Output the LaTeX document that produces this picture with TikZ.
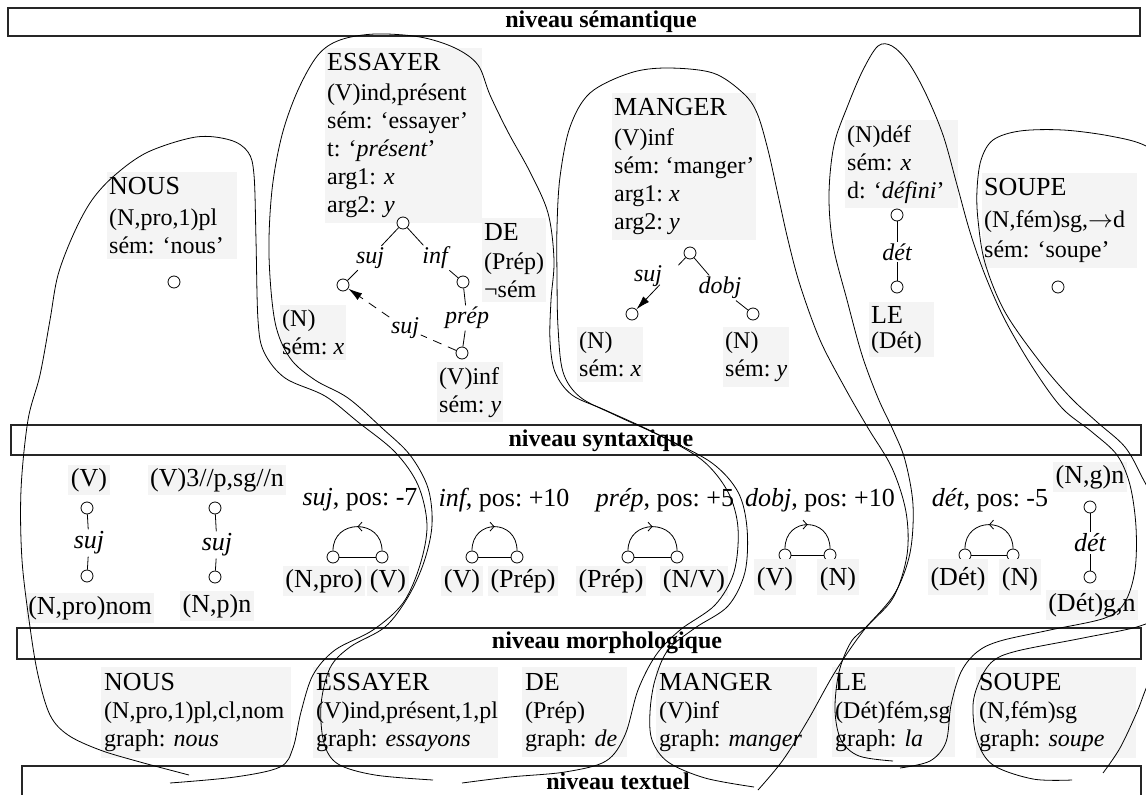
\documentclass[tikz,border=0pt]{standalone}
\usepackage{fontspec}
\setmainfont{Liberation Serif}
\usetikzlibrary{arrows.meta,decorations.markings,calc}
\definecolor{boxgray}{RGB}{244,244,244}
\newcommand{\wtitle}[1]{{\fontsize{26}{30}\selectfont #1}}
\frenchspacing
\begin{document}
\begin{tikzpicture}[x=1pt,y=-1pt,
  every node/.style={font=\fontsize{24}{28}\selectfont},
  gbox/.style={fill=boxgray, anchor=north west, align=left, inner xsep=2pt, inner ysep=5pt},
  sbox/.style={fill=boxgray, inner xsep=2.5pt, inner ysep=3pt, font=\fontsize{26}{30}\selectfont},
  tbox/.style={sbox, anchor=base, text height=23pt, text depth=7pt},
  circ/.style={circle, draw, fill=white, minimum size=12pt, inner sep=0pt, line width=0.8pt},
  lab/.style={font=\fontsize{24}{28}\selectfont\itshape, inner sep=1.5pt},
  slab/.style={font=\fontsize{26}{30}\selectfont\itshape, inner sep=2pt},
  rtext/.style={font=\fontsize{26}{30}\selectfont, inner sep=1pt},
  bar/.style={draw=black!85, line width=1.1pt},
  barlabel/.style={font=\fontsize{24}{28}\selectfont\bfseries, inner sep=0pt},
  blob/.style={line width=0.8pt},
  tline/.style={line width=0.8pt},
  rarc/.style={line width=0.8pt, postaction={decorate}, decoration={markings, mark=at position 0.5 with {\arrow{Straight Barb[length=4pt,width=9pt]}}}},
  larc/.style={line width=0.8pt, postaction={decorate}, decoration={markings, mark=at position 0.5 with {\arrowreversed{Straight Barb[length=4pt,width=9pt]}}}},
]
\useasboundingbox (0,0) rectangle (1146,795);
\fill[white] (0,0) rectangle (1146,795);

% level bars
\draw[bar] (8,8) rectangle (1140,36);
\node[barlabel] (tsem) at (601,22) {niveau sémantique};
\draw[bar] (11,425) rectangle (1141,455);
\node[barlabel] (tsyn) at (601,441) {niveau syntaxique};
\draw[bar] (17,628) rectangle (1141,659);
\node[barlabel] (tmor) at (607,643) {niveau morphologique};
\begin{scope}
\clip (0,0) rectangle (1146,795);
\draw[bar] (22,766) rectangle (1141,815);
\end{scope}
\node[barlabel] (ttxt) at (618,781) {niveau textuel};

% ---------- semantic level ----------
\node[gbox, text width=126pt] (snous) at (107,172) {\wtitle{NOUS}\\[3pt](N,pro,1)pl\\sém: ‘nous’};
\node[gbox, text width=153pt] (sess) at (325,48) {\wtitle{ESSAYER}\\[2pt](V)ind,présent\\sém: ‘essayer’\\t: ‘\textit{présent}’\\arg1: \textit{x}\\arg2: \textit{y}};
\node[gbox] (sde) at (482,218) {\wtitle{DE}\\[1pt](Prép)\\¬sém};
\node[gbox] (snx) at (280,305) {(N)\\sém: \textit{x}};
\node[gbox] (svy) at (437,362) {(V)inf\\sém: \textit{y}};
\node[gbox] (sman) at (612,93) {\wtitle{MANGER}\\[2pt](V)inf\\sém: ‘manger’\\arg1: \textit{x}\\arg2: \textit{y}};
\node[gbox] (smx) at (577,327) {(N)\\sém: \textit{x}};
\node[gbox] (smy) at (723,327) {(N)\\sém: \textit{y}};
\node[gbox, text width=109pt] (sdef) at (845,120) {(N)déf\\sém: \textit{x}\\d: ‘\textit{défini}’};
\node[gbox, text width=61pt, inner ysep=4pt] (sle) at (869,302) {\wtitle{LE}\\[-3pt](Dét)};
\node[gbox, text width=151pt] (ssoupe) at (982,173) {\wtitle{SOUPE}\\[4pt](N,fém)sg,$\rightarrow$d\\[2pt]sém: ‘soupe’};

\node[circ] (cnous) at (174,282) {};
\node[circ] (csoupe) at (1058,287) {};

% ESSAYER tree
\node[circ] (e0) at (403,223) {};
\node[circ] (e1) at (343,285) {};
\node[circ] (e2) at (463,282) {};
\node[circ] (e3) at (462,353) {};
\node[lab] (esuj) at (370,258) {suj};
\node[lab] (einf) at (435,258) {inf};
\node[lab] (eprep) at (467,318) {prép};
\node[lab] (esujb) at (405,328) {suj};
\draw[tline] (e0) -- (esuj);
\draw[tline] (esuj) -- (e1);
\draw[tline] (e0) -- (einf);
\draw[tline] (einf) -- (e2);
\draw[tline] (e2) -- (eprep);
\draw[tline] (eprep) -- (e3);
\draw[tline, dash pattern=on 9pt off 7pt] (e3) -- (esujb);
\draw[tline, dash pattern=on 9pt off 7pt, -{Latex[length=14pt,width=8pt]}] (esujb) -- (e1);

% MANGER tree
\node[circ] (m0) at (690,253) {};
\node[circ] (m1) at (632,314) {};
\node[circ] (m2) at (753,314) {};
\node[lab] (msuj) at (648,276) {suj};
\node[lab] (mdobj) at (720,288) {dobj};
\coordinate (msa) at ($(m0)!0.2!(m1)$);
\coordinate (msb) at ($(m0)!0.52!(m1)$);
\draw[tline] (m0) -- (msa);
\draw[tline, -{Latex[length=14pt,width=8pt]}] (msb) -- (m1);
\draw[tline] (m0) -- (mdobj);
\draw[tline] (mdobj) -- (m2);

% LE tree
\node[circ] (l0) at (897,215) {};
\node[circ] (l1) at (897,287) {};
\node[lab] (ldet) at (897,252) {dét};
\draw[tline] (l0) -- (ldet);
\draw[tline] (ldet) -- (l1);

% ---------- syntactic level ----------
\node[sbox] (yv) at (89,480) {(V)};
\node[circ] (y1) at (87,508) {};
\node[slab] (ysuj) at (89,543) {suj};
\node[circ] (y2) at (87,576) {};
\node[sbox] (ynom) at (90,608) {(N,pro)nom};
\draw[tline] (y1) -- (ysuj);
\draw[tline] (ysuj) -- (y2);

\node[sbox] (zv) at (217,480) {(V)3//p,sg//n};
\node[circ] (z1) at (215,508) {};
\node[slab] (zsuj) at (217,545) {suj};
\node[circ] (z2) at (215,577) {};
\node[sbox] (znp) at (217,606) {(N,p)n};
\draw[tline] (z1) -- (zsuj);
\draw[tline] (zsuj) -- (z2);

% suj, pos -7
\node[rtext] (r1t) at (360,500) {\textit{suj}, pos: -7};
\node[circ] (r1a) at (333,557) {};
\node[circ] (r1b) at (382,557) {};
\draw[tline] (r1a) -- (r1b);
\draw[larc] (r1a.north) .. controls +(0,-32) and +(0,-32) .. (r1b.north);
\node[sbox] (r1x) at (324,581) {(N,pro)};
\node[sbox] (r1y) at (388,581) {(V)};

% inf, pos +10
\node[rtext] (r2t) at (504,500) {\textit{inf}, pos: +10};
\node[circ] (r2a) at (472,557) {};
\node[circ] (r2b) at (517,557) {};
\draw[tline] (r2a) -- (r2b);
\draw[rarc] (r2a.north) .. controls +(0,-32) and +(0,-32) .. (r2b.north);
\node[sbox] (r2x) at (462,581) {(V)};
\node[sbox] (r2y) at (523,581) {(Prép)};

% prép, pos +5
\node[rtext] (r3t) at (665,500) {\textit{prép}, pos: +5};
\node[circ] (r3a) at (628,557) {};
\node[circ] (r3b) at (677,557) {};
\draw[tline] (r3a) -- (r3b);
\draw[rarc] (r3a.north) .. controls +(0,-32) and +(0,-32) .. (r3b.north);
\node[sbox] (r3x) at (611,581) {(Prép)};
\node[sbox] (r3y) at (694,581) {(N/V)};

% dobj, pos +10
\node[rtext] (r4t) at (820,500) {\textit{dobj}, pos: +10};
\node[circ] (r4a) at (785,555) {};
\node[circ] (r4b) at (830,555) {};
\draw[tline] (r4a) -- (r4b);
\draw[rarc] (r4a.north) .. controls +(0,-32) and +(0,-32) .. (r4b.north);
\node[tbox] (r4x) at (775,585) {(V)};
\node[tbox] (r4y) at (838,585) {(N)};

% dét, pos -5
\node[rtext] (r5t) at (990,500) {\textit{dét}, pos: -5};
\node[circ] (r5a) at (965,555) {};
\node[circ] (r5b) at (1013,555) {};
\draw[tline] (r5a) -- (r5b);
\draw[larc] (r5a.north) .. controls +(0,-32) and +(0,-32) .. (r5b.north);
\node[tbox] (r5x) at (958,585) {(Dét)};
\node[tbox] (r5y) at (1020,585) {(N)};

% (N,g)n -- dét -- (Dét)g,n
\node[sbox] (gn) at (1090,477) {(N,g)n};
\node[circ] (w1) at (1090,507) {};
\node[slab] (wdet) at (1090,543) {dét};
\node[circ] (w2) at (1090,577) {};
\node[sbox] (dgn) at (1092,605) {(Dét)g,n};
\draw[tline] (w1) -- (wdet);
\draw[tline] (wdet) -- (w2);

% ---------- morphological level ----------
\node[gbox, inner xsep=3pt, inner ysep=6pt, text width=184pt] (mnous) at (101,667) {\wtitle{NOUS}\\(N,pro,1)pl,cl,nom\\graph: \textit{nous}};
\node[gbox, inner xsep=3pt, inner ysep=6pt, text width=179pt] (mess) at (313,667) {\wtitle{ESSAYER}\\(V)ind,présent,1,pl\\graph: \textit{essayons}};
\node[gbox, inner xsep=3pt, inner ysep=6pt, text width=99pt] (mde) at (522,667) {\wtitle{DE}\\(Prép)\\graph: \textit{de}};
\node[gbox, inner xsep=3pt, inner ysep=6pt, text width=155pt] (mman) at (656,667) {\wtitle{MANGER}\\(V)inf\\graph: \textit{manger}};
\node[gbox, inner xsep=3pt, inner ysep=6pt, text width=117pt] (mle) at (832,667) {\wtitle{LE}\\(Dét)fém,sg\\graph: \textit{la}};
\node[gbox, inner xsep=3pt, inner ysep=6pt, text width=154pt] (msoupe) at (976,667) {\wtitle{SOUPE}\\(N,fém)sg\\graph: \textit{soupe}};

% ---------- blobs ----------
\begin{scope}
\clip (0,0) rectangle (1146,795);
% NOUS
\draw[blob] plot[smooth, tension=0.55] coordinates {(189,775) (140,762) (100,750) (68,735) (50,715) (38,675) (30,627) (22,560) (21,490) (28,420) (40,375) (50,320) (58,275) (74,233) (92,200) (115,175) (148,152) (196,137) (230,140) (248,152) (254,175) (256,240) (258,320) (264,352) (285,378) (325,396) (358,422) (395,452) (418,485) (427,525) (420,565) (403,603) (373,630) (335,650) (313,675) (301,712) (293,748) (280,767) (235,777) (170,783)};
% ESSAYER + DE
\draw[blob] plot[smooth, tension=0.55] coordinates {(433,780) (375,775) (338,764) (324,743) (321,705) (330,668) (350,647) (385,627) (408,597) (424,562) (432,525) (428,488) (410,455) (382,428) (348,398) (315,380) (290,358) (275,322) (269,255) (272,190) (282,135) (298,90) (318,55) (340,40) (375,34) (420,37) (455,48) (478,65) (490,95) (508,132) (530,172) (548,213) (554,260) (551,300) (550,340) (555,372) (572,395) (605,410) (655,433) (702,460) (728,492) (738,528) (734,572) (715,605) (680,630) (656,655) (638,690) (625,735) (606,761) (565,772) (510,777) (462,783)};
% MANGER
\draw[blob] plot[smooth, tension=0.55] coordinates {(754,787) (705,778) (668,762) (652,740) (650,712) (655,680) (668,650) (695,628) (728,606) (745,572) (747,528) (738,492) (712,463) (665,438) (615,415) (580,397) (563,372) (558,327) (557,277) (557,227) (560,177) (570,127) (590,93) (630,73) (667,68) (713,73) (743,93) (757,113) (768,150) (778,195) (788,240) (800,285) (820,340) (845,388) (868,428) (892,468) (906,512) (907,555) (893,598) (864,630) (835,672) (808,720) (783,760) (758,790)};
% LE
\draw[blob] plot[smooth, tension=0.55] coordinates {(893,761) (859,756) (841,740) (835,710) (839,672) (851,642) (868,625) (895,593) (910,553) (913,505) (905,460) (893,430) (878,398) (862,355) (847,300) (833,245) (829,195) (834,145) (848,105) (863,70) (878,46) (892,46) (908,62) (925,92) (943,135) (957,185) (970,232) (985,275) (1005,320) (1033,368) (1062,408) (1092,432) (1117,455) (1130,485) (1136,527) (1135,570) (1125,602) (1105,618) (1050,630) (1000,641) (977,652) (961,672) (951,705) (946,742) (930,761) (900,768)};
% SOUPE
\draw[blob] plot[smooth, tension=0.55] coordinates {(1072,780) (1033,779) (993,765) (977,740) (973,705) (980,680) (993,661) (1017,651) (1083,638) (1140,626) (1160,612) (1168,570) (1160,515) (1142,477) (1125,447) (1097,422) (1070,397) (1040,362) (1005,312) (985,263) (978,220) (977,190) (981,160) (993,140) (1020,131) (1063,130) (1110,136) (1146,146) (1175,170) (1190,400) (1175,640) (1150,680) (1137,712) (1120,748) (1103,773)};
\end{scope}
\end{tikzpicture}
\end{document}
